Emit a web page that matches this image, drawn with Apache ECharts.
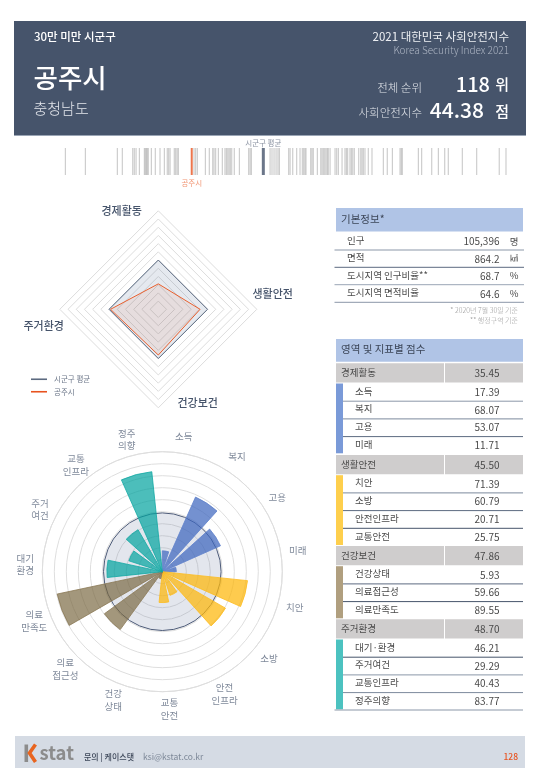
<!DOCTYPE html>
<html><head><meta charset="utf-8">
<style>html,body{margin:0;padding:0;background:#fff}#c{width:540px;height:780px}</style>
<script src="https://cdn.jsdelivr.net/npm/echarts@6/dist/echarts.min.js"></script>
</head><body><div id="c"></div>
<script>
const stripScores=[34.46,36.03,38.54,38.93,39.75,39.87,40.01,40.27,40.66,40.74,40.82,40.89,40.97,41.21,41.52,41.89,42.23,42.46,42.57,42.68,43.01,43.12,43.23,43.33,44.56,44.69,44.82,45.45,45.76,46.03,46.13,46.26,46.47,46.78,46.99,47.10,47.21,47.31,47.41,47.52,47.72,48.12,48.85,48.96,49.06,50.53,50.68,50.84,51.00,51.15,51.26,51.99,52.10,52.31,52.62,52.88,53.06,53.17,53.27,53.35,53.72,53.82,53.92,54.24,54.51,54.61,54.71,54.82,54.92,55.02,55.10,55.24,55.63,55.76,55.89,56.18,56.41,56.52,56.62,56.80,56.91,57.02,57.14,57.49,57.65,57.75,57.85,57.98,58.24,58.53,59.42,59.73,60.13,60.73,60.83,60.91,62.17,62.43,63.22,63.74,64.24,64.52,65.62,66.75,68.52,69.05];
const cityScore=44.38, avgScore=50.00;
const cityName='공주시', avgName='시군구 평균';
const radarAxes=['경제활동','주거환경','건강보건','생활안전'];
const radarAvg=[60,60,60,60];
const radarCity=[31,58.2,55.7,50.9];
const radarLevels=[10,20,30,40,50,60,70,80,90,100,110,120];
const polarLabels=['소득','복지','고용','미래','치안','소방','안전\n인프라','교통\n안전','건강\n상태','의료\n접근성','의료\n만족도','대기\n환경','주거\n여건','교통\n인프라','정주\n의향'];
const polarValues=[17.39,68.07,53.07,11.71,71.39,60.79,20.71,25.75,5.93,59.66,89.55,46.21,29.29,40.43,83.77];
const polarGroup=[0,0,0,0,1,1,1,1,2,2,2,3,3,3,3];
const polarAvg=49;
const labelRadius=114.3;
const groupFill=['rgba(62,103,190,0.72)','rgba(253,183,10,0.72)','rgba(120,101,62,0.68)','rgba(0,163,158,0.70)'];
const groupEdge=['#5f82cb','#fdbb1e','#8a7855','#12a8a3'];
const groupBar=['#7a9ad8','#fecf4d','#b09f7f','#4cc2c0'];
const basicNames=['인구','면적','도시지역 인구비율**','도시지역 면적비율'];
const basicValues=['105,396','864.2','68.7','64.6'];
const basicUnits=['명','㎢','%','%'];
const groupNames=['경제활동','생활안전','건강보건','주거환경'];
const groupScores=['35.45','45.50','47.86','48.70'];
const indicatorNames=[['소득','복지','고용','미래'],['치안','소방','안전인프라','교통안전'],['건강상태','의료접근성','의료만족도'],['대기·환경','주거여건','교통인프라','정주의향']];
const indicatorValues=[['17.39','68.07','53.07','11.71'],['71.39','60.79','20.71','25.75'],['5.93','59.66','89.55'],['46.21','29.29','40.43','83.77']];

const F='"Noto Sans CJK KR","Noto Sans",sans-serif';
const slate='#46546b', orange='#e8531f';
const els=[];
function T(x,y,text,size,fill,align,weight){els.push({type:'text',silent:true,x:x,y:y,style:{text:text,fontFamily:F,fontSize:size,fill:fill,align:align||'left',verticalAlign:'middle',fontWeight:weight||400}});}
function R(x,y,w,h,fill){els.push({type:'rect',silent:true,shape:{x:x,y:y,width:w,height:h},style:{fill:fill}});}
function L(x1,x2,y,c,w){els.push({type:'line',silent:true,shape:{x1:x1,y1:y,x2:x2,y2:y},style:{stroke:c,lineWidth:w||1}});}

// header
R(14,21,512,115,slate); R(14,135,512,1,'#9aa5b5');
T(34,36.5,'30만 미만 시군구',11.5,'#fff','left',500);
T(509,36.5,'2021 대한민국 사회안전지수',11.5,'#eef0f4','right');
T(509,50,'Korea Security Index 2021',10,'#aeb6c4','right',300);
T(33.5,77.5,cityName,26.5,'#fff','left',500);
T(33.5,108,'충청남도',15,'#e3e6ec','left',300);
T(422,88,'전체 순위',11.5,'#dfe2e8','right',300);
T(422,112.5,'사회안전지수',11.5,'#dfe2e8','right',300);
T(490,84,'118',20,'#fff','right',500);
T(509,84.5,'위',15,'#fff','right',500);
T(484,110.5,'44.38',21,'#fff','right',500);
T(509,111,'점',15,'#fff','right',500);

// radar names
T(121.7,211,radarAxes[0],11,slate,'center',500);
T(272.7,294.3,radarAxes[3],11,slate,'center',500);
T(197.7,402.7,radarAxes[2],11,slate,'center',500);
T(43.7,326,radarAxes[1],11,slate,'center',500);

// basic table
const tx='#4a4a4a';
R(336,208,187,23.5,'#b0c4e6');
T(341,219.5,'기본정보*',10.5,'#3c4658');
[250,267.3,284.7,302.3].forEach((y,i)=>{
  L(334.5,524,y,['#8b97a8','#5c6a80','#9aa5b5','#8b97a8'][i],1);
  T(347,y-9.5,basicNames[i],9.5,tx);
  T(499.5,y-8.5,basicValues[i],10,tx,'right');
  T(514,y-9,basicUnits[i],i==1?8:9.5,tx,'center');
});
T(518,310.5,'* 2020년 7월 30일 기준',7,'#9a9a9a','right',300);
T(518,320,'** 행정구역 기준',7,'#9a9a9a','right',300);

// score table
R(336,339,187,22.7,'#b0c4e6');
T(341,349.5,'영역 및 지표별 점수',10.5,'#3c4658');
const groupTop=[363.3,455,546,619.3];
const lineCols=['#8b97a8','#7c899c','#5c6a80','#46546b'];
groupNames.forEach((g,i)=>{
  const top=groupTop[i];
  R(336,top,108,19.3,'#cfcdcd'); R(445,top,78,19.3,'#cfcdcd');
  T(341,top+9.2,g,9.5,tx);
  T(499.5,top+10.2,groupScores[i],10,tx,'right');
  const n=indicatorNames[i].length, rh=17.7;
  R(336,top+20.2,7,n*rh-1,groupBar[i]);
  indicatorNames[i].forEach((nm,j)=>{
    const y=top+20.2+j*rh;
    T(355,y+7.6,nm,9.5,tx);
    T(499.5,y+8.6,indicatorValues[i][j],10,tx,'right');
    if(j<n-1) L(343,523,y+rh,lineCols[(i+j)%4],1);
  });
});
L(334.5,523,710,'#8b97a8',1);

// footer
R(15,736,510,32,'#d5dbe4');
R(24.5,744.5,3.6,17.5,'#8c8c8c');
els.push({type:'polyline',silent:true,shape:{points:[[35.5,744.5],[29.5,753],[35.5,762]]},style:{stroke:'#e8641f',lineWidth:3.6,fill:'none'}});
T(39.5,753,'stat',18.5,'#8c8c8c','left',700);
T(84,757,'문의 | 케이스탯',8,'#3c4658','left',500);
T(143,757,'ksi@kstat.co.kr',8.5,'#7c8797','left');
T(518,757,'128',8.5,orange,'right',500);

const chart=echarts.init(document.getElementById('c'));
chart.setOption({
  animation:false,
  textStyle:{fontFamily:F},
  graphic:{elements:els},
  legend:{left:31,top:375.5,padding:0,orient:'vertical',itemWidth:16,itemHeight:1.6,itemGap:5,icon:'rect',selectedMode:false,
    data:[avgName,cityName],textStyle:{fontSize:7.5,color:'#6b7688',fontFamily:F,padding:[0,0,0,2]}},
  grid:{left:59.5,width:458.6,top:148,height:27},
  xAxis:{type:'value',min:34,max:70,show:false},
  yAxis:{type:'category',data:['점수'],show:false},
  radar:{center:[158.3,309.3],radius:98.5,startAngle:90,shape:'polygon',splitNumber:12,
    indicator:radarAxes.map(n=>({name:n,max:120,min:0})),
    axisName:{show:false},axisLine:{show:false},axisTick:{show:false},splitArea:{show:false},
    splitLine:{show:false}},
  polar:{center:[162.3,571.7],radius:120},
  angleAxis:{type:'category',data:polarLabels,startAngle:93,
    axisLine:{lineStyle:{color:'#dedede',width:1}},axisTick:{show:false},splitLine:{show:false},axisLabel:{show:false}},
  radiusAxis:{type:'value',min:0,max:100,interval:10,axisLine:{show:false},axisTick:{show:false},axisLabel:{show:false},
    splitLine:{show:true,lineStyle:{color:'#dedede',width:1}}},
  series:[
    {type:'scatter',name:'strip',data:stripScores.map(v=>[v,0]),symbol:'rect',symbolSize:[1.1,27],silent:true,
      itemStyle:{color:'rgba(120,120,120,0.5)'}},
    {type:'scatter',name:'stripCity',data:[[cityScore,0]],symbol:'rect',symbolSize:[2,27],silent:true,z:5,itemStyle:{color:orange},
      label:{show:true,position:'bottom',distance:4,formatter:cityName,fontSize:7.5,color:'#ee7a50',fontFamily:F}},
    {type:'scatter',name:'stripAvg',data:[[avgScore,0]],symbol:'rect',symbolSize:[3,27],silent:true,z:5,itemStyle:{color:slate},
      label:{show:true,position:'top',distance:1,formatter:avgName,fontSize:7.5,color:'#6b7688',fontFamily:F}},
    {type:'radar',name:'눈금',symbol:'none',silent:true,z:1,
      data:radarLevels.map(v=>({name:'눈금'+v,value:radarAxes.map(()=>v),lineStyle:{color:'#dcdcdc',width:1},itemStyle:{color:'#dcdcdc'}}))},
    {type:'radar',name:'레이더',symbol:'none',silent:true,z:2,data:[
      {name:avgName,value:radarAvg,itemStyle:{color:'#5c6a80'},lineStyle:{color:'#5c6a80',width:1},areaStyle:{color:'rgba(70,100,140,0.2)'}},
      {name:cityName,value:radarCity,itemStyle:{color:orange},lineStyle:{color:'#e8602f',width:1},areaStyle:{color:'rgba(232,100,40,0.13)'}}
    ]},
    {type:'custom',name:'평균원',coordinateSystem:'polar',silent:true,z:1,encode:{radius:0,angle:1},data:[[polarAvg,0]],
      renderItem:function(params,api){
        const p=api.coord([api.value(0),api.value(1)]);
        const cs=params.coordSys;
        const r=Math.hypot(p[0]-cs.cx,p[1]-cs.cy);
        return {type:'circle',shape:{cx:cs.cx,cy:cs.cy,r:r},style:{fill:'rgba(90,105,150,0.17)',stroke:'#4d5b78',lineWidth:1}};
      }},
    {type:'bar',name:'지표',coordinateSystem:'polar',barWidth:'75%',silent:true,z:3,
      data:polarValues.map((v,i)=>({value:v,itemStyle:{color:groupFill[polarGroup[i]],borderColor:groupEdge[polarGroup[i]],borderWidth:0.8}}))},
    {type:'scatter',name:'지표명',coordinateSystem:'polar',silent:true,symbolSize:0,clip:false,z:4,
      data:polarLabels.map((n,i)=>[labelRadius,i]),
      label:{show:true,position:'inside',formatter:p=>polarLabels[p.dataIndex],fontSize:9.5,color:'#5e6a80',lineHeight:12.5,align:'center',verticalAlign:'middle',fontFamily:F}}
  ]
});
</script></body></html>
